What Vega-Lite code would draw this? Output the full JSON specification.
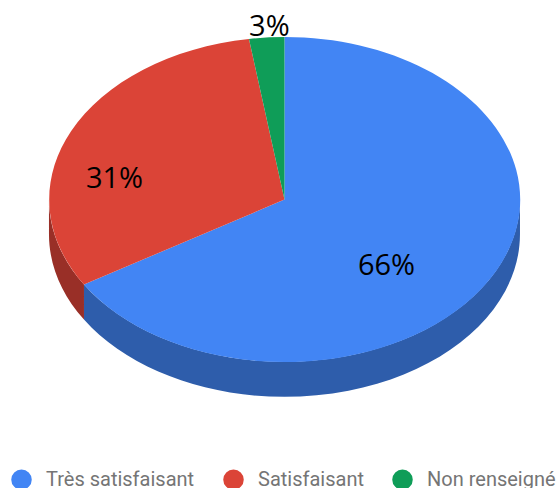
{"$schema":"https://vega.github.io/schema/vega-lite/v6.json","width":560,"height":488,"autosize":{"type":"none"},"padding":0,"background":"white","config":{"view":{"stroke":null}},"data":{"values":[{"label":"Très satisfaisant","share":66,"text":"66%","u":0.433,"v":-0.409},{"label":"Satisfaisant","share":31,"text":"31%","u":-0.722,"v":0.126},{"label":"Non renseigné","share":3,"text":"3%","u":-0.064,"v":1.06}]},"resolve":{"scale":{"color":"independent","shape":"independent"},"legend":{"color":"independent"}},"layer":[{"transform":[{"filter":"datum.share > 10"}],"mark":{"type":"point","filled":true,"opacity":1,"size":4},"encoding":{"x":{"datum":0,"type":"quantitative","scale":{"domain":[-1.208,1.17]},"axis":null},"y":{"datum":0,"type":"quantitative","scale":{"domain":[-1.775,1.228]},"axis":null},"color":{"field":"label","type":"nominal","legend":null,"scale":{"domain":["Très satisfaisant","Satisfaisant"],"range":["#2E5DAB","#992F27"]}},"shape":{"field":"text","type":"nominal","legend":null,"scale":{"domain":["66%","31%"],"range":["M235.5 0 A235.5 162.5 0 0 1 -200.5 85 L-200.5 120 A235.5 162.5 0 0 0 235.5 35 Z","M-200.5 85 A235.5 162.5 0 0 1 -235.5 0 L-235.5 35 A235.5 162.5 0 0 0 -200.5 120 Z"]}}}},{"mark":{"type":"point","filled":true,"opacity":1,"size":4},"encoding":{"x":{"datum":0,"type":"quantitative","scale":{"domain":[-1.208,1.17]},"axis":null},"y":{"datum":0,"type":"quantitative","scale":{"domain":[-1.775,1.228]},"axis":null},"color":{"field":"label","type":"nominal","scale":{"domain":["Très satisfaisant","Satisfaisant","Non renseigné"],"range":["#4285F4","#DB4437","#0F9D58"]},"legend":{"title":null,"orient":"none","legendX":11,"legendY":469,"direction":"horizontal","symbolType":"circle","symbolSize":420,"symbolStrokeWidth":0,"labelFont":"Roboto","labelFontSize":20,"labelColor":"#757575","labelOffset":14,"columnPadding":28,"labelLimit":200}},"shape":{"field":"text","type":"nominal","legend":null,"scale":{"domain":["66%","31%","3%"],"range":["M0 0 L0 -162.5 A235.5 162.5 0 1 1 -200.5 85 Z","M0 0 L-200.5 85 A235.5 162.5 0 0 1 -35.5 -160.6 Z","M0 0 L-35.5 -160.6 A235.5 162.5 0 0 1 0 -162.5 Z"]}}}},{"mark":{"type":"text","font":"Open Sans","fontSize":29,"color":"#000000","baseline":"middle","align":"center"},"encoding":{"x":{"field":"u","type":"quantitative","scale":{"domain":[-1.208,1.17]},"axis":null},"y":{"field":"v","type":"quantitative","scale":{"domain":[-1.775,1.228]},"axis":null},"text":{"field":"text","type":"nominal"}}}]}
